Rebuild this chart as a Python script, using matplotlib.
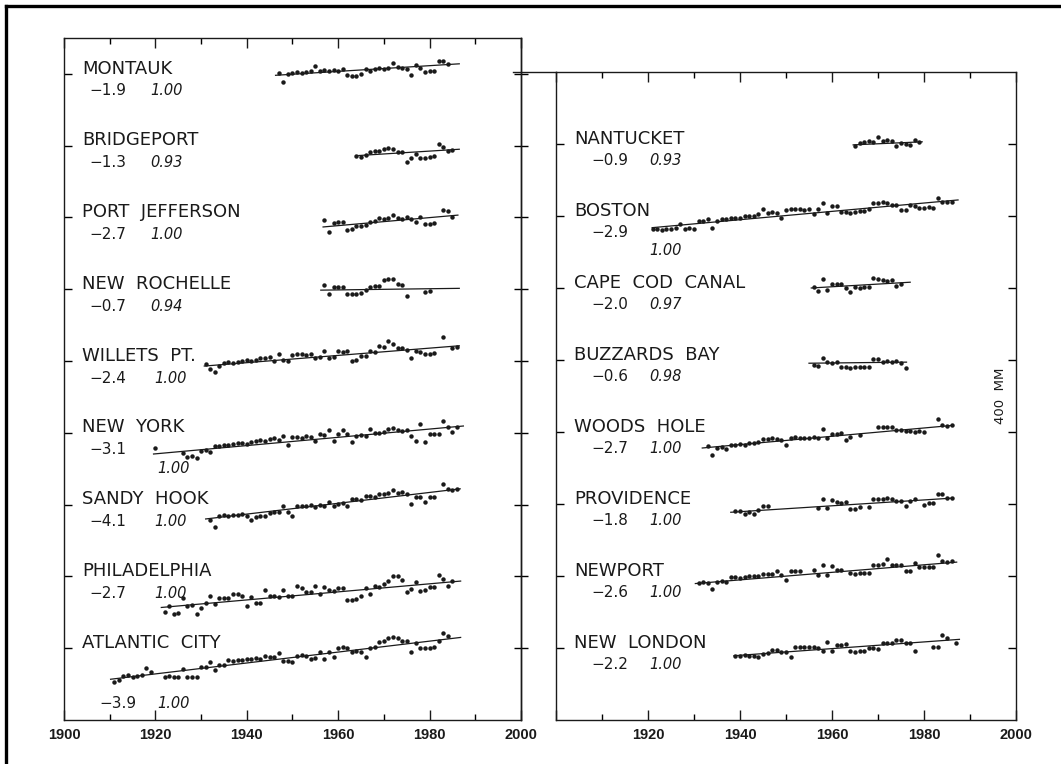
import matplotlib
matplotlib.use("Agg")
import matplotlib.pyplot as plt
from matplotlib.lines import Line2D
import numpy as np

# annual mean sea level (mm), relative to each
# station's base tick; None = no value that year

MONTAUK_START = 1947
MONTAUK = [5, -45, 2, 5, 8, 5, 12, 15, 45, 18, 20, 15, 22, 18, 25, -8, -12, -10,
           2, 25, 18, 25, 30, 28, 32, 60, 38, 30, 25, -8, 48, 30, 12, 15, 18, 70,
           72, 55]

BRIDGEPORT_START = 1964
BRIDGEPORT = [-55, -62, -50, -35, -32, -30, -20, -15, -18, -35, -38, -90, -70,
              -45, -68, -70, -62, -55, 12, -5, -30, -25]

PORTJEFF_START = 1957
PORTJEFF = [-15, -80, -30, -28, -25, -70, -65, -50, -48, -40, -25, -22, -5, -8,
            -2, 13, -5, -8, 0, -10, -28, 5, -35, -38, -32, None, 40, 38, 4]

NEWROCH_START = 1957
NEWROCH = [23, -28, 13, 15, 10, -25, -28, -25, -22, -5, 15, 20, 18, 50, 58, 55,
           30, 25, -38, None, None, None, -15, -10]

WILLETS_START = 1931
WILLETS = [-19, -47, -60, -28, -12, -8, -10, -5, 0, 5, 0, 8, 19, 15, 22, 0, 40,
           5, 0, 35, 38, 40, 35, 38, 19, 22, 56, 19, 22, 56, 52, 55, 0, 5, 28,
           30, 56, 52, 85, 80, 113, 94, 75, 70, 60, 15, 56, 50, 41, 38, 45,
           None, 135, None, 70, 80]

NEWYORK_START = 1920
NEWYORK = [-85, None, None, None, None, None, -110, -137, -130, -140, -100, -95,
           -105, -72, -75, -68, -70, -65, -56, -55, -60, -50, -45, -40, -43,
           -34, -30, -38, -15, -70, -25, -22, -28, -20, -25, -43, -6, -10, 13,
           -43, -6, 13, -8, -52, -15, -12, -18, 19, 0, -2, 3, 23, 25, 13, 10,
           15, -15, -43, 47, -52, -6, -5, -8, 66, 32, 4, 30]

SANDYHOOK_START = 1932
SANDYHOOK = [-83, -122, -65, -60, -61, -58, -60, -55, -63, -83, -70, -65, -62,
             -45, -40, -43, -6, -43, -61, -8, -5, -10, -2, -15, 0, -5, 13, -8,
             5, 8, -10, 30, 32, 25, 48, 50, 45, 60, 58, 62, 83, 65, 68, 60, 6,
             45, 40, 15, 40, 42, None, 115, 85, 80, 88]

PHILA_START = 1922
PHILA = [-199, -165, -211, -205, -122, -167, -160, -211, -174, -150, -110, -156,
         -122, -118, -120, -100, -98, -110, -165, -115, -150, -148, -76, -110,
         -108, -112, -76, -110, -108, -56, -67, -89, -85, -56, -100, -61, -75,
         -80, -67, -65, -134, -130, -128, -110, -67, -100, -56, -58, -40, -26,
         2, 0, -22, -89, -72, -32, -80, -78, -61, -58, 6, -13, -52, -26]

ATLANTIC_START = 1911
ATLANTIC = [-190, -175, -155, -150, -160, -155, -150, -112, -130, None, None,
            -160, -155, -162, -158, -117, -162, -160, -158, -104, -106, -76,
            -120, -93, -95, -67, -70, -65, -68, -58, -60, -55, -58, -41, -50,
            -48, -28, -74, -72, -76, -41, -40, -42, -58, -56, -20, -58, -20,
            -50, 2, 5, 0, -20, -18, -22, -50, 2, 4, 35, 40, 59, 62, 58, 39, 38,
            -20, 30, 2, 0, 2, 5, 39, 85, 67]

NANTUCKET_START = 1965
NANTUCKET = [-9, 5, 9, 19, 10, 41, 19, 22, 15, -9, 5, 0, -5, 22, 9]

BOSTON_START = 1921
BOSTON = [-74, -72, -76, -70, -74, -68, -46, -70, -68, -72, -28, -30, -15, -65,
          -28, -19, -15, -12, -10, -14, 0, -2, 2, 9, 41, 19, 22, 18, -9, 35, 37,
          38, 40, 33, 37, 9, 40, 70, 19, 56, 54, 22, 20, 18, 22, 25, 28, 41, 74,
          72, 76, 70, 61, 61, 33, 33, 59, 58, 46, 45, 48, 44, 102, 78, 76, 80]

CAPECOD_START = 1956
CAPECOD = [4, -15, 50, -9, 22, 24, 20, -2, -24, 4, 2, 6, 8, 54, 52, 45, 41, 43,
           9, 22]

BUZZARDS_START = 1956
BUZZARDS = [-28, -32, 9, -13, -15, -12, -41, -40, -42, -40, -41, -38, -40, 6, 8,
            -9, -8, -10, -5, -19, -46]

WOODSHOLE_START = 1933
WOODSHOLE = [-78, -128, -89, -85, -92, -70, -72, -68, -70, -59, -60, -58, -37,
             -40, -35, -38, -45, -74, -33, -30, -32, -34, -33, -30, -33, 15,
             -33, -9, -10, -8, -46, -30, None, -19, None, None, None, 28, 28,
             26, 28, 9, 10, 5, 4, 2, 5, 0, None, None, 70, 37, 35, 38]

PROVIDENCE_START = 1939
PROVIDENCE = [-40, -38, -56, -42, -56, -35, -13, -13, None, None, None, None,
              None, None, None, None, None, None, -22, 28, -20, 24, 9, 8, 10,
              -28, -26, -15, None, -19, 28, 30, 28, 32, 28, 19, 19, -9, 19, 28,
              None, -4, 6, 6, 56, 56, 32, 32]

NEWPORT_START = 1931
NEWPORT = [-38, -35, -38, -71, -33, -30, -33, -8, -6, -10, -8, 0, 2, 0, 11, 12,
           10, 25, 6, -23, 25, 27, 25, None, None, 35, 6, 63, 6, 54, 35, 35,
           None, 15, 13, 15, 16, 15, 63, 62, 65, 92, 63, 62, 60, 25, 25, 73, 50,
           48, 50, 52, 115, 85, 80, 82]

NEWLONDON_START = 1939
NEWLONDON = [-43, -45, -40, -43, -42, -52, -32, -30, -10, -12, -25, -25, -48, 4,
             5, 3, 4, 5, 2, -19, 32, -19, 19, 18, 20, -19, -20, -18, -15, 0, 0,
             -5, 28, 30, 28, 46, 44, 28, 26, -15, None, None, None, 6, 8, 71, 58,
             None, 28]

# station labels, trend (mm/yr) and correlation, top to bottom
LEFT_NAMES = ['MONTAUK', 'BRIDGEPORT', 'PORT  JEFFERSON', 'NEW  ROCHELLE',
              'WILLETS  PT.', 'NEW  YORK', 'SANDY  HOOK', 'PHILADELPHIA',
              'ATLANTIC  CITY']
LEFT_TREND = ['−1.9', '−1.3', '−2.7', '−0.7', '−2.4', '−3.1', '−4.1', '−2.7', '−3.9']
LEFT_CORR = ['1.00', '0.93', '1.00', '0.94', '1.00', '1.00', '1.00', '1.00', '1.00']
LEFT_SERIES = [(MONTAUK_START, MONTAUK), (BRIDGEPORT_START, BRIDGEPORT),
               (PORTJEFF_START, PORTJEFF), (NEWROCH_START, NEWROCH),
               (WILLETS_START, WILLETS), (NEWYORK_START, NEWYORK),
               (SANDYHOOK_START, SANDYHOOK), (PHILA_START, PHILA),
               (ATLANTIC_START, ATLANTIC)]
# fitted trend lines as drawn: (year0, mm0, year1, mm1)
LEFT_LINES = [(1946.3, -8, 1986.5, 56), (1964.5, -55, 1986.5, -20),
              (1956.7, -53, 1986.2, 13), (1956.2, -5, 1986.5, 5),
              (1930.7, -28, 1986.5, 85), (1919.6, -118, 1987.4, 38),
              (1931.0, -80, 1986.7, 88), (1921.3, -173, 1986.8, -26),
              (1910.2, -173, 1986.8, 60)]

RIGHT_NAMES = ['NANTUCKET', 'BOSTON', 'CAPE  COD  CANAL', 'BUZZARDS  BAY',
               'WOODS  HOLE', 'PROVIDENCE', 'NEWPORT', 'NEW  LONDON']
RIGHT_TREND = ['−0.9', '−2.9', '−2.0', '−0.6', '−2.7', '−1.8', '−2.6', '−2.2']
RIGHT_CORR = ['0.93', '1.00', '0.97', '0.98', '1.00', '1.00', '1.00', '1.00']
RIGHT_SERIES = [(NANTUCKET_START, NANTUCKET), (BOSTON_START, BOSTON),
                (CAPECOD_START, CAPECOD), (BUZZARDS_START, BUZZARDS),
                (WOODSHOLE_START, WOODSHOLE), (PROVIDENCE_START, PROVIDENCE),
                (NEWPORT_START, NEWPORT), (NEWLONDON_START, NEWLONDON)]
RIGHT_LINES = [(1964.6, -5, 1979.6, 12), (1920.9, -65, 1987.4, 89),
               (1955.5, 0, 1977.0, 32), (1955.0, -18, 1976.2, -12),
               (1931.8, -89, 1986.4, 37), (1938.0, -46, 1986.4, 33),
               (1930.3, -42, 1987.1, 77), (1938.7, -43, 1987.7, 48)]

SPACING = 400  # mm between station base lines
INK = '#1a1a1a'
plt.rcParams['font.family'] = ['DejaVu Sans']


def draw_panel(ax, names, trends, corrs, series, lines, n_top):
    bases = []
    for k, (name, (start, vals), ln) in enumerate(zip(names, series, lines)):
        base = (n_top - k) * SPACING
        bases.append(base)
        y = np.array(vals, dtype=float)
        yrs = np.arange(start, start + len(y))
        ax.plot(yrs, y + base, 'o', ms=3.2, color=INK, mec=INK, mew=0)
        ax.plot([ln[0], ln[2]], [ln[1] + base, ln[3] + base], color=INK, lw=0.9)
        ax.text(1904, base + 2, name, fontsize=13, color=INK, va='baseline')
    return bases


fig = plt.figure(figsize=(10.61, 7.64), dpi=100)
axl = fig.add_axes([0.0603, 0.0576, 0.4307, 0.8927])
axr = fig.add_axes([0.524, 0.0576, 0.4336, 0.8482])

bl = draw_panel(axl, LEFT_NAMES, LEFT_TREND, LEFT_CORR, LEFT_SERIES, LEFT_LINES, 8)
br = draw_panel(axr, RIGHT_NAMES, RIGHT_TREND, RIGHT_CORR, RIGHT_SERIES, RIGHT_LINES, 7)

# trend / correlation numbers under the names
for k, base in enumerate(bl):
    tx, cx, ty, cy = 1905.6, 1918.8, base - 120, base - 120
    if LEFT_NAMES[k] == 'NEW  YORK':
        cx, cy = 1920.5, base - 225
    if LEFT_NAMES[k] == 'ATLANTIC  CITY':
        tx, cx, ty, cy = 1907.8, 1920.5, base - 335, base - 335
    if LEFT_NAMES[k] in ('WILLETS  PT.', 'SANDY  HOOK', 'PHILADELPHIA'):
        cx = 1919.8
    axl.text(tx, ty, LEFT_TREND[k], fontsize=11, color=INK)
    axl.text(cx, cy, LEFT_CORR[k], fontsize=10.5, style='italic', color=INK)

for k, base in enumerate(br):
    cx, cy = 1920.2, base - 117
    if RIGHT_NAMES[k] == 'BOSTON':
        cy = base - 215
    axr.text(1907.8, base - 117, RIGHT_TREND[k], fontsize=11, color=INK)
    axr.text(cx, cy, RIGHT_CORR[k], fontsize=10.5, style='italic', color=INK)

axr.text(1996.6, 3.5 * SPACING, '400  MM', rotation=90, fontsize=9.5,
         ha='center', va='center', color=INK)

for ax, top in ((axl, 8.5), (axr, 8)):
    ax.set_xlim(1900, 2000)
    ax.set_ylim(-SPACING, top * SPACING)
    ax.set_xticks(range(1900, 2001, 20))
    ax.set_xticks(range(1910, 2000, 20), minor=True)
    ax.tick_params(axis='x', which='major', direction='in', length=7, width=1,
                   top=True, pad=6, colors=INK)
    ax.tick_params(axis='x', which='minor', direction='in', length=4.5, width=1,
                   top=True)
    for s in ax.spines.values():
        s.set_linewidth(1.0)
        s.set_color(INK)

axl.set_xticklabels(['1900', '1920', '1940', '1960', '1980', '2000'],
                    family='Liberation Sans', fontsize=10.5, fontweight='bold')
axr.set_xticklabels(['', '1920', '1940', '1960', '1980', '2000'],
                    family='Liberation Sans', fontsize=10.5, fontweight='bold')

axl.set_yticks(bl)
axl.tick_params(axis='y', direction='in', length=6, width=1, labelleft=False,
                right=False)
sec = axl.secondary_yaxis('right')
sec.set_yticks(bl)
sec.tick_params(direction='inout', length=10, width=1, labelright=False)
sec.spines['right'].set_linewidth(1.0)

axr.set_yticks(br)
axr.tick_params(axis='y', direction='in', length=6, width=1, labelleft=False,
                right=True)

# top edge of the right box runs back to the left box, and the page frame
ytop = 1 - 72 / 764
fig.add_artist(Line2D([513 / 1061, 556 / 1061], [ytop, ytop], color=INK, lw=1.0))
fig.add_artist(Line2D([6 / 1061, 1.0], [1 - 6 / 764] * 2, color='k', lw=2.4))
fig.add_artist(Line2D([6 / 1061] * 2, [0, 1 - 6 / 764], color='k', lw=2.4))

fig.savefig('out.png', dpi=100)
